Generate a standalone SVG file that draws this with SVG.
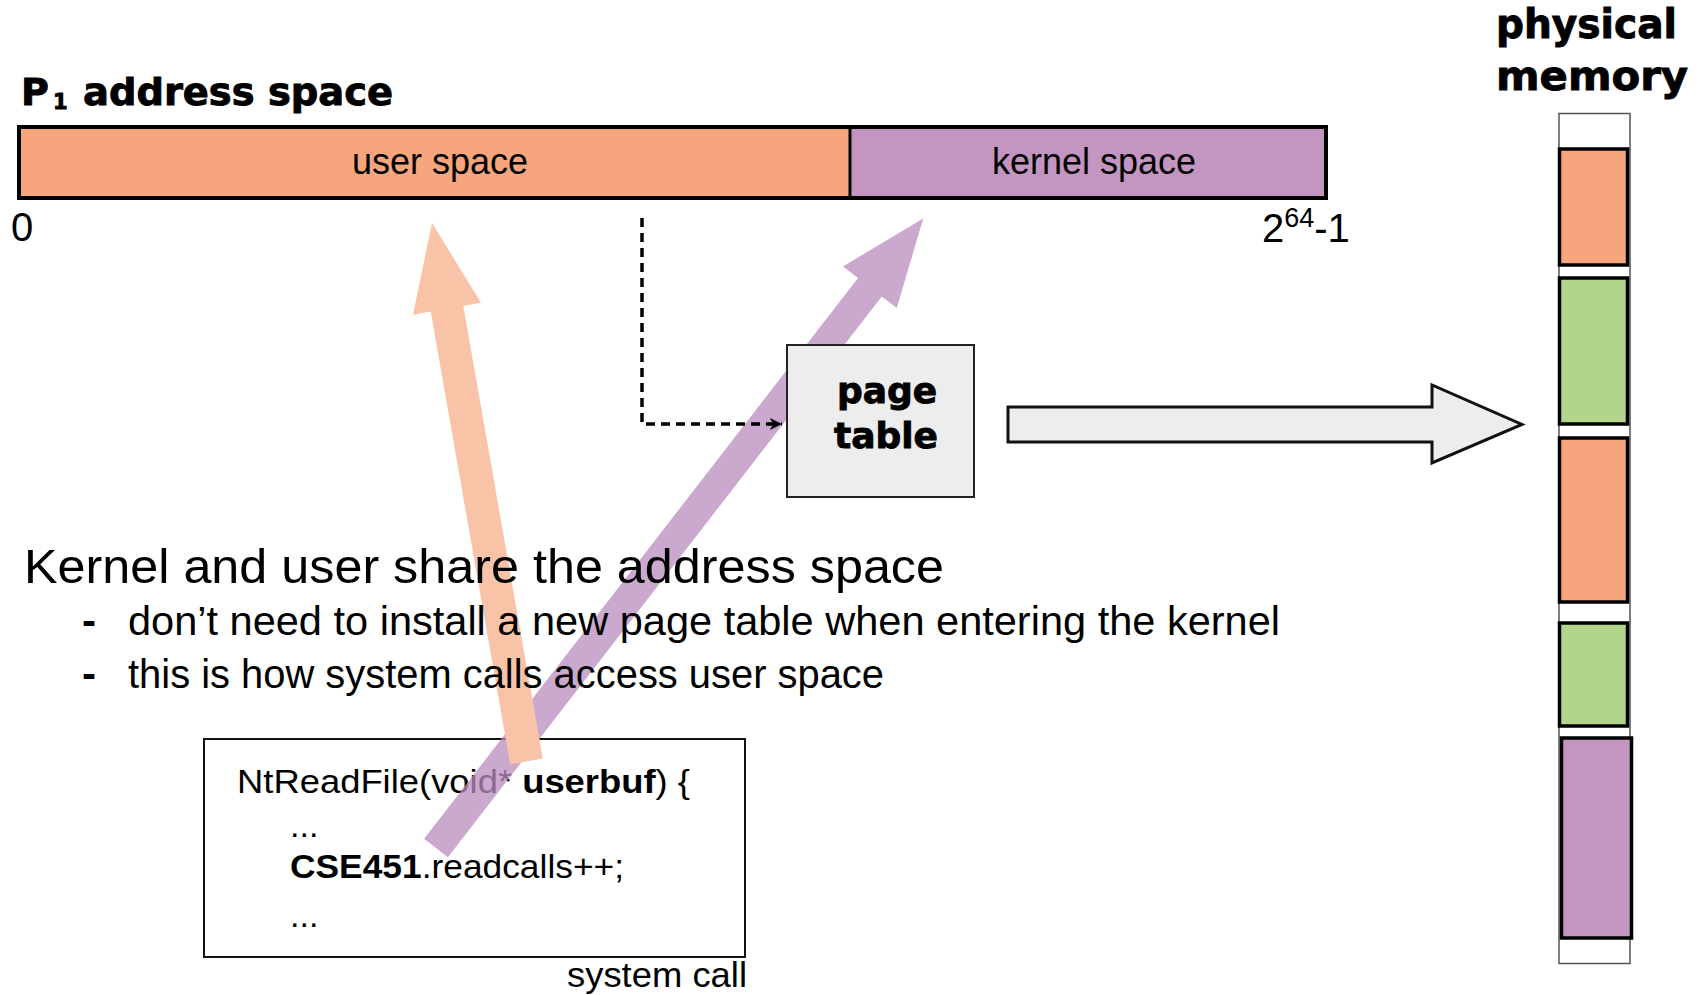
<svg xmlns="http://www.w3.org/2000/svg" width="1708" height="995" viewBox="0 0 1708 995">
  <defs>
    <style>
      .reg { font-family: "Liberation Sans", Arial, sans-serif; fill: #000; }
      .hvy { font-family: "DejaVu Sans", "Liberation Sans", sans-serif; font-weight: bold; fill: #000; stroke: #000; stroke-width: 0.9; }
      .seg { stroke: #000; stroke-width: 3.5; }
      .orange { fill: #F6A57C; }
      .purple { fill: #C595C2; }
      .green { fill: #B2D48B; }
    </style>
    <marker id="chev" viewBox="0 0 14 14" refX="13" refY="7" markerWidth="14" markerHeight="14" markerUnits="userSpaceOnUse" orient="auto">
      <path d="M1,1 L13,7 L1,13 L4,7 Z" fill="#000"/>
    </marker>
  </defs>

  <rect width="1708" height="995" fill="#fff"/>

  <!-- address space bar -->
  <g id="address-space">
    <text class="hvy" x="21" y="105" font-size="38">P</text>
    <text class="hvy" x="53" y="109" font-size="21">1</text>
    <text class="hvy" x="83" y="105" font-size="38" textLength="310" lengthAdjust="spacingAndGlyphs">address space</text>
    <rect x="19" y="127" width="831" height="71" class="orange"/>
    <rect x="850" y="127" width="476" height="71" class="purple"/>
    <rect x="19" y="127" width="1307" height="71" fill="none" stroke="#000" stroke-width="4"/>
    <line x1="850" y1="127" x2="850" y2="198" stroke="#000" stroke-width="3"/>
    <text class="reg" x="440" y="174" font-size="36" text-anchor="middle">user space</text>
    <text class="reg" x="1094" y="174" font-size="36" text-anchor="middle">kernel space</text>
    <text class="reg" x="11" y="241" font-size="40">0</text>
    <text class="reg" x="1262" y="242" font-size="40">2<tspan font-size="27" dy="-15">64</tspan><tspan dy="15">-1</tspan></text>
  </g>

  <!-- system call code listing -->
  <g id="syscall-code">
    <rect x="204" y="739" width="541" height="218" fill="#fff" stroke="#111" stroke-width="2"/>
    <text class="reg" x="237" y="793" font-size="34" textLength="453" lengthAdjust="spacingAndGlyphs">NtReadFile(void* <tspan font-weight="bold">userbuf</tspan>) {</text>
    <text class="reg" x="290" y="837" font-size="34">...</text>
    <text class="reg" x="290" y="878" font-size="34" textLength="334" lengthAdjust="spacingAndGlyphs"><tspan font-weight="bold">CSE451</tspan>.readcalls++;</text>
    <text class="reg" x="290" y="927" font-size="34">...</text>
    <text class="reg" x="567" y="987" font-size="35" textLength="180" lengthAdjust="spacingAndGlyphs">system call</text>
  </g>

  <!-- connectors -->
  <g id="connectors">
    <!-- kernel access into kernel space -->
    <polygon points="424.1,838.8 858.0,278.0 843.0,266.4 923.2,218.4 896.8,308.0 881.8,296.4 447.9,857.2" fill="#BA8CBF" fill-opacity="0.75"/>
    <!-- kernel access into user buffer -->
    <polygon points="510.2,764.4 430.7,311.6 413.0,314.7 432,223 481.0,302.7 463.3,305.8 542.8,758.6" fill="#F9C3A7"/>
    <!-- address lookup -->
    <path d="M642,218 L642,424 L782,424" fill="none" stroke="#000" stroke-width="3.5" stroke-dasharray="9,6" marker-end="url(#chev)"/>
    <!-- translation into physical memory -->
    <polygon points="1008,407 1432,407 1432,385 1522,424.5 1432,463 1432,442 1008,442" fill="#EDEDED" stroke="#111" stroke-width="3" stroke-linejoin="miter"/>
  </g>

  <!-- explanation text -->
  <g id="notes">
    <text class="reg" x="24" y="583" font-size="49" textLength="920" lengthAdjust="spacingAndGlyphs">Kernel and user share the address space</text>
    <text class="reg" x="82" y="635" font-size="42" font-weight="bold">-</text>
    <text class="reg" x="128" y="635" font-size="41.5" textLength="1152" lengthAdjust="spacingAndGlyphs">don’t need to install a new page table when entering the kernel</text>
    <text class="reg" x="82" y="688" font-size="42" font-weight="bold">-</text>
    <text class="reg" x="128" y="688" font-size="41.5" textLength="756" lengthAdjust="spacingAndGlyphs">this is how system calls access user space</text>
  </g>

  <!-- page table -->
  <g id="page-table">
    <rect x="787" y="345" width="187" height="152" fill="#EDEDED" stroke="#222" stroke-width="2"/>
    <text class="hvy" x="887" y="403" font-size="36" text-anchor="middle">page</text>
    <text class="hvy" x="886" y="448" font-size="36" text-anchor="middle">table</text>
  </g>

  <!-- physical memory -->
  <g id="physical-memory">
    <text class="hvy" x="1496" y="38" font-size="40" textLength="181" lengthAdjust="spacingAndGlyphs">physical</text>
    <text class="hvy" x="1496" y="90" font-size="40" textLength="192" lengthAdjust="spacingAndGlyphs">memory</text>
    <rect x="1559" y="113.5" width="71" height="850" fill="#fff" stroke="#555" stroke-width="1.5"/>
    <rect x="1559.5" y="149" width="68" height="116" class="seg orange"/>
    <rect x="1559.5" y="278" width="68" height="146" class="seg green"/>
    <rect x="1559.5" y="438" width="68" height="164" class="seg orange"/>
    <rect x="1559.5" y="623" width="68" height="103" class="seg green"/>
    <rect x="1561.5" y="738" width="70" height="200" class="seg purple"/>
  </g>
</svg>
